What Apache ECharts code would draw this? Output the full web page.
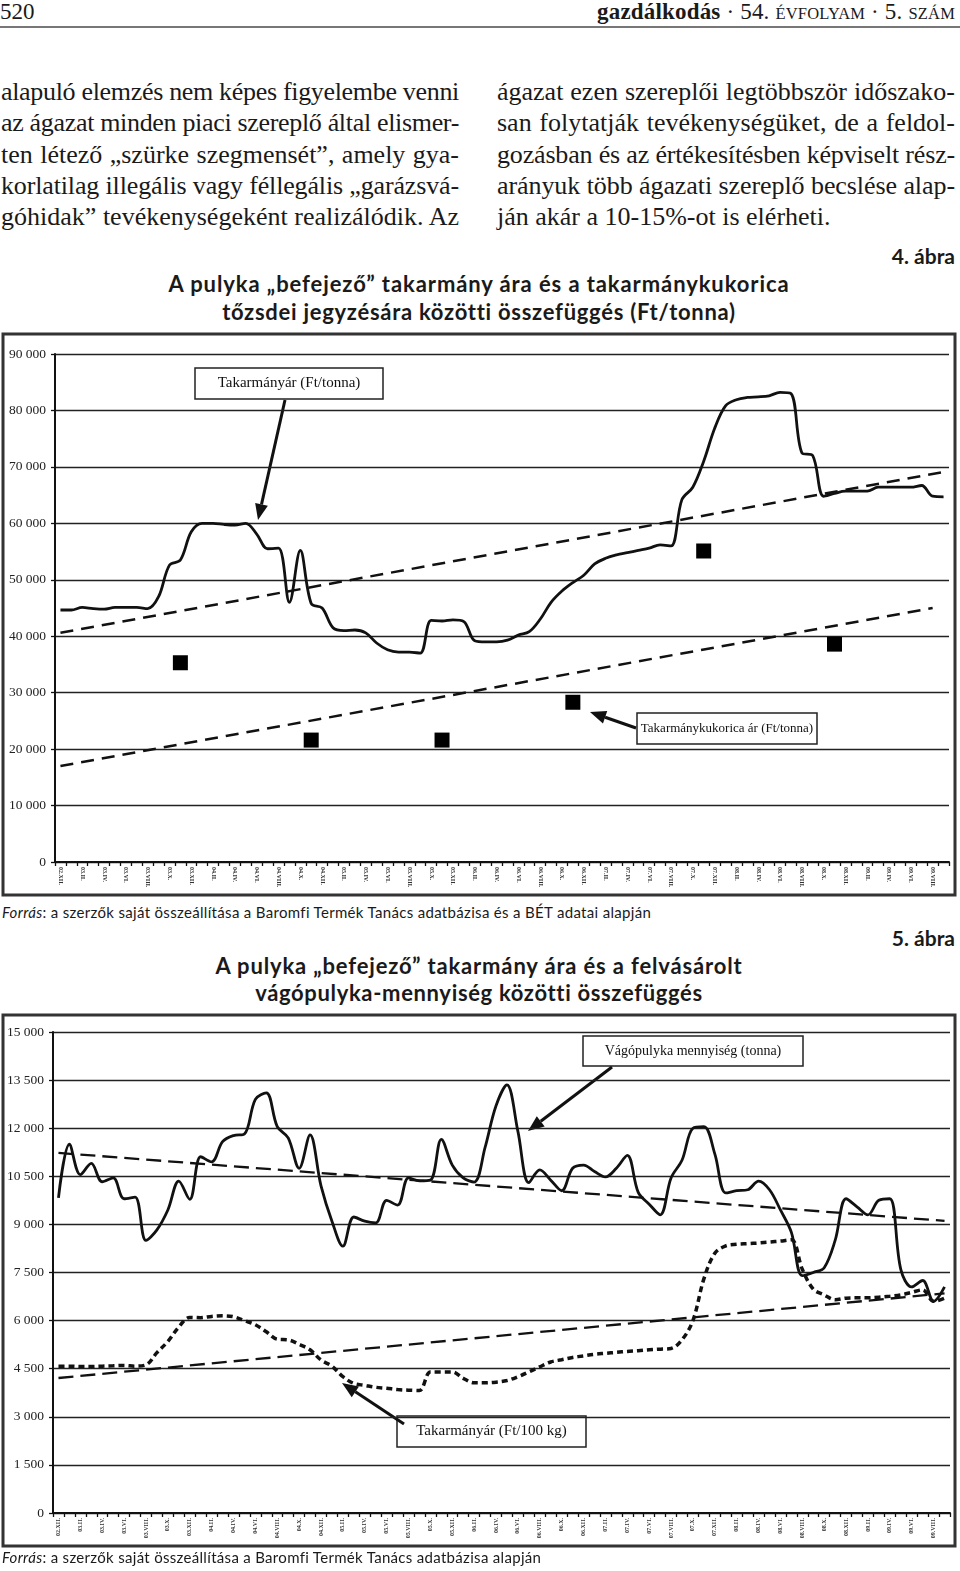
<!DOCTYPE html>
<html><head><meta charset="utf-8">
<script src="https://cdn.jsdelivr.net/npm/echarts@6/dist/echarts.min.js"></script>
<style>
body{margin:0;width:960px;height:1571px;position:relative;background:#fff;overflow:hidden;font-family:"Liberation Serif",serif;color:#1a1a1a}
.abs{position:absolute;white-space:nowrap}
.bl{position:absolute;white-space:nowrap;font-size:26px;line-height:31px;height:31px}
.ttl{position:absolute;left:0;width:958px;text-align:center;font-family:Lato,sans-serif;font-weight:700;font-size:22px;line-height:28px;white-space:nowrap;color:#1a1a1a}
.abra{position:absolute;right:5px;font-family:Lato,sans-serif;font-weight:700;font-size:21px;line-height:24px;color:#1a1a1a}
.src{position:absolute;left:2px;font-family:Lato,sans-serif;font-size:15px;line-height:20px;white-space:nowrap;color:#1a1a1a}
</style></head><body>

<div class="abs" style="left:0;top:-1px;font-size:23px;line-height:26px">520</div>
<div class="abs" id="hdr" style="right:5px;top:-1px;font-size:23px;line-height:26px"><b>gazdálkodás</b> · 54. <span style="font-size:16.5px">ÉVFOLYAM</span> · 5. <span style="font-size:16.5px">SZÁM</span></div>
<div class="abs" style="left:0;top:26px;width:960px;height:2px;background:#777"></div>

<div id="bodytext"></div>

<div class="abra" style="top:244px">4. ábra</div>
<div class="ttl" style="top:270px"><span id="t1a">A pulyka „befejező” takarmány ára és a takarmánykukorica</span></div>
<div class="ttl" style="top:298px"><span id="t1b">tőzsdei jegyzésára közötti összefüggés (Ft/tonna)</span></div>

<div id="c1" style="position:absolute;left:0;top:330px;width:960px;height:570px"></div>

<div class="src" id="src1" style="top:902px"><i>Forrás</i>: a szerzők saját összeállítása a Baromfi Termék Tanács adatbázisa és a BÉT adatai alapján</div>

<div class="abra" style="top:926px">5. ábra</div>
<div class="ttl" style="top:952px"><span id="t2a">A pulyka „befejező” takarmány ára és a felvásárolt</span></div>
<div class="ttl" style="top:979px"><span id="t2b">vágópulyka-mennyiség közötti összefüggés</span></div>

<div id="c2" style="position:absolute;left:0;top:1010px;width:960px;height:540px"></div>

<div class="src" id="src2" style="top:1547px"><i>Forrás</i>: a szerzők saját összeállítása a Baromfi Termék Tanács adatbázisa alapján</div>

<script>
// ---------- DATA ----------
const months = [
 '02.XII.',
 '03.I.','03.II.','03.III.','03.IV.','03.V.','03.VI.','03.VII.','03.VIII.','03.IX.','03.X.','03.XI.','03.XII.',
 '04.I.','04.II.','04.III.','04.IV.','04.V.','04.VI.','04.VII.','04.VIII.','04.IX.','04.X.','04.XI.','04.XII.',
 '05.I.','05.II.','05.III.','05.IV.','05.V.','05.VI.','05.VII.','05.VIII.','05.IX.','05.X.','05.XI.','05.XII.',
 '06.I.','06.II.','06.III.','06.IV.','06.V.','06.VI.','06.VII.','06.VIII.','06.IX.','06.X.','06.XI.','06.XII.',
 '07.I.','07.II.','07.III.','07.IV.','07.V.','07.VI.','07.VII.','07.VIII.','07.IX.','07.X.','07.XI.','07.XII.',
 '08.I.','08.II.','08.III.','08.IV.','08.V.','08.VI.','08.VII.','08.VIII.','08.IX.','08.X.','08.XI.','08.XII.',
 '09.I.','09.II.','09.III.','09.IV.','09.V.','09.VI.','09.VII.','09.VIII.','09.IX.'
];

// Chart 1 (Ft/tonna)
const feedPriceTonne = [
 44650,44650,45100,44900,44800,45100,45100,45100,44900,47000,
 52600,53500,58500,60000,60000,59800,59700,60000,58100,55500,
 55600,46000,55200,45800,45000,41500,41000,41100,40600,38800,
 37600,37200,37200,37000,42800,42700,42900,42600,39200,39000,
 39000,39300,40200,40800,43000,46000,48000,49500,50800,52800,
 53800,54400,54800,55200,55600,56200,56000,64200,66400,71000,
 76800,80800,81900,82300,82400,82600,83200,83000,72500,72000,
 64800,65300,65700,65700,65700,66400,66400,66400,66400,66700,
 64800,64700
];
const feedTrendTonne = [[0, 40600], [81, 69100]];
const cornMonths = ['03.XI.','04.XI.','05.XI.','06.XI.','07.XI.','08.XI.'];
const cornPrice = [35300, 21600, 21600, 28300, 55100, 38600];
const cornTrend = [[0, 17000], [80, 45000]];
const yTicks1 = {min: 0, max: 90000, interval: 10000};

// Chart 2
const turkeyQty = [
 9830,11500,10550,10900,10330,10450,9800,9850,8500,8830,
 9450,10350,9780,11110,10950,11580,11770,11820,12900,13100,
 12050,11700,10750,11790,10200,9100,8320,9230,9100,9050,
 9750,9600,10450,10360,10380,11650,10850,10450,10320,11400,
 12700,13350,11900,10300,10700,10380,10050,10750,10850,10650,
 10480,10750,11150,10000,9630,9300,10450,11000,12000,12050,
 11200,9980,10050,10080,10350,10080,9450,8750,7400,7500,
 7650,8500,9800,9550,9300,9750,9800,7600,7050,7250,
 6600,7050
];
const qtyTrend = [[0, 11230], [81, 9110]];
const feedPrice100kg = [
 4580,4580,4570,4570,4580,4590,4600,4580,4620,5000,
 5350,5800,6100,6090,6130,6150,6120,6000,5870,5650,
 5420,5400,5260,5090,4770,4580,4250,4040,3980,3920,
 3890,3850,3830,3820,4400,4400,4400,4200,4060,4060,
 4080,4130,4250,4400,4560,4710,4780,4850,4900,4950,
 4980,5010,5040,5060,5090,5110,5130,5400,6000,7300,
 8100,8330,8380,8400,8420,8450,8480,8520,7600,6980,
 6800,6650,6700,6710,6710,6730,6760,6800,6880,6960,
 6600,6700
];
const feedTrend100kg = [[0, 4210], [81, 6850]];
const yTicks2 = {min: 0, max: 15000, interval: 1500};

const leftLines = [
 'alapuló elemzés nem képes figyelembe venni',
 'az ágazat minden piaci szereplő által elismer-',
 'ten létező „szürke szegmensét”, amely gya-',
 'korlatilag illegális vagy féllegális „garázsvá-',
 'góhidak” tevékenységeként realizálódik. Az'
];
const rightLines = [
 'ágazat ezen szereplői legtöbbször időszako-',
 'san folytatják tevékenységüket, de a feldol-',
 'gozásban és az értékesítésben képviselt rész-',
 'arányuk több ágazati szereplő becslése alap-',
 'ján akár a 10-15%-ot is elérheti.'
];

// ---------- TEXT LAYOUT ----------
const bt = document.getElementById('bodytext');
function placeLines(lines, left, width, lastJustify) {
  lines.forEach((t, i) => {
    const d = document.createElement('div');
    d.className = 'bl';
    d.style.left = left + 'px';
    d.style.top = (76 + i * 31.3) + 'px';
    const s = document.createElement('span');
    s.textContent = t;
    d.appendChild(s);
    bt.appendChild(d);
    const justify = (i < lines.length - 1) || lastJustify;
    const w = s.getBoundingClientRect().width;
    const spaces = (t.match(/ /g) || []).length;
    if (w > width) {
      s.style.letterSpacing = ((width - w) / t.length) + 'px';
    } else if (justify && spaces) {
      s.style.wordSpacing = ((width - w) / spaces) + 'px';
    }
  });
}
placeLines(leftLines, 1, 458, true);
placeLines(rightLines, 497, 458, false);

function fitWidth(id, target) {
  const el = document.getElementById(id);
  const w = el.getBoundingClientRect().width;
  el.style.letterSpacing = ((target - w) / el.textContent.length) + 'px';
}
fitWidth('src1', 649);
fitWidth('src2', 539);
fitWidth('t1a', 621);
fitWidth('t1b', 513);
fitWidth('t2a', 527);
fitWidth('t2b', 447);
fitWidth('hdr', 358);

// ---------- CHARTS ----------
const fmt = v => String(v).replace(/\B(?=(\d{3})+(?!\d))/g, ' ');
const INK = '#111';

function arrow(x1, y1, x2, y2) {
  const a = Math.atan2(y2 - y1, x2 - x1), L = 16, H = 6.5;
  const bx = x2 - L * Math.cos(a), by = y2 - L * Math.sin(a);
  const px = -Math.sin(a) * H, py = Math.cos(a) * H;
  return [
    {type: 'line', shape: {x1, y1, x2: bx, y2: by}, style: {stroke: INK, lineWidth: 3}},
    {type: 'polygon', shape: {points: [[x2, y2], [bx + px, by + py], [bx - px, by - py]]}, style: {fill: INK}}
  ];
}
function box(x, y, w, h, text, fs) {
  return [
    {type: 'rect', shape: {x, y, width: w, height: h}, style: {fill: '#fff', stroke: '#222', lineWidth: 1.5}},
    {type: 'text', x: x + w / 2, y: y + h / 2, style: {text, fill: '#111', font: fs + 'px "Liberation Serif"', align: 'center', verticalAlign: 'middle'}}
  ];
}

function baseAxes(rot, yt) {
  return {
    xAxis: {
      type: 'category', data: months, boundaryGap: true,
      axisLine: {lineStyle: {color: INK, width: 2}},
      axisTick: {show: true, interval: 0, length: 4, lineStyle: {color: INK, width: 1.3}},
      axisLabel: {interval: 1, rotate: rot, fontSize: 6, fontWeight: 'bold', fontFamily: 'Liberation Serif', color: '#333', margin: 5},
      splitLine: {show: false}
    },
    yAxis: {
      type: 'value', min: yt.min, max: yt.max, interval: yt.interval,
      axisLine: {show: true, lineStyle: {color: INK, width: 2}},
      axisTick: {show: true, length: 4, lineStyle: {color: INK, width: 1.3}},
      axisLabel: {formatter: fmt, fontSize: 13.5, fontFamily: 'Liberation Serif', color: '#222', margin: 9},
      splitLine: {show: true, lineStyle: {color: '#222', width: 1.4}}
    }
  };
}

const c1 = echarts.init(document.getElementById('c1'), null, {renderer: 'canvas'});
const ax1 = baseAxes(-90, yTicks1);
c1.setOption({
  animation: false,
  grid: {left: 55, right: 11, top: 24, bottom: 38, outerBoundsMode: 'none'},
  xAxis: ax1.xAxis, yAxis: ax1.yAxis,
  series: [
    {name: 'Takarmányár (Ft/tonna)', type: 'line', data: feedPriceTonne, smooth: 0.35, symbol: 'none',
     lineStyle: {color: INK, width: 2.8}, z: 5},
    {type: 'line', data: feedTrendTonne, symbol: 'none', lineStyle: {color: INK, width: 2.5, type: [13, 8]}},
    {type: 'line', data: cornTrend, symbol: 'none', lineStyle: {color: INK, width: 2.5, type: [13, 8]}},
    {name: 'Takarmánykukorica ár (Ft/tonna)', type: 'scatter', data: cornMonths.map((m, i) => [m, cornPrice[i]]),
     symbol: 'rect', symbolSize: 15, itemStyle: {color: '#000', opacity: 1}, z: 6}
  ],
  graphic: [
    {type: 'rect', shape: {x: 3, y: 4, width: 952, height: 561}, style: {fill: 'none', stroke: '#333', lineWidth: 3}},
    ...box(195, 38, 188, 31, 'Takarmányár (Ft/tonna)', 15),
    ...arrow(285, 70, 258, 190),
    ...box(637, 383, 180, 31, 'Takarmánykukorica ár (Ft/tonna)', 13),
    ...arrow(636, 398, 590, 382)
  ]
});

const c2 = echarts.init(document.getElementById('c2'), null, {renderer: 'canvas'});
const ax2 = baseAxes(90, yTicks2);
c2.setOption({
  animation: false,
  grid: {left: 53, right: 10, top: 22, bottom: 37, outerBoundsMode: 'none'},
  xAxis: ax2.xAxis, yAxis: ax2.yAxis,
  series: [
    {name: 'Vágópulyka mennyiség (tonna)', type: 'line', data: turkeyQty, smooth: 0.35, symbol: 'none',
     lineStyle: {color: INK, width: 2.8}, z: 5},
    {type: 'line', data: qtyTrend, symbol: 'none', lineStyle: {color: INK, width: 2.3, type: [15, 7]}},
    {name: 'Takarmányár (Ft/100 kg)', type: 'line', data: feedPrice100kg, smooth: 0.35, symbol: 'none',
     lineStyle: {color: INK, width: 3.5, type: [6, 4]}, z: 4},
    {type: 'line', data: feedTrend100kg, symbol: 'none', lineStyle: {color: INK, width: 2.3, type: [15, 7]}}
  ],
  graphic: [
    {type: 'rect', shape: {x: 3, y: 5, width: 952, height: 531}, style: {fill: 'none', stroke: '#333', lineWidth: 3}},
    ...box(583, 26, 220, 30, 'Vágópulyka mennyiség (tonna)', 14),
    ...arrow(612, 57, 528, 121),
    ...box(397, 406, 189, 31, 'Takarmányár (Ft/100 kg)', 15),
    ...arrow(404, 414, 342, 373)
  ]
});
</script>
</body></html>
